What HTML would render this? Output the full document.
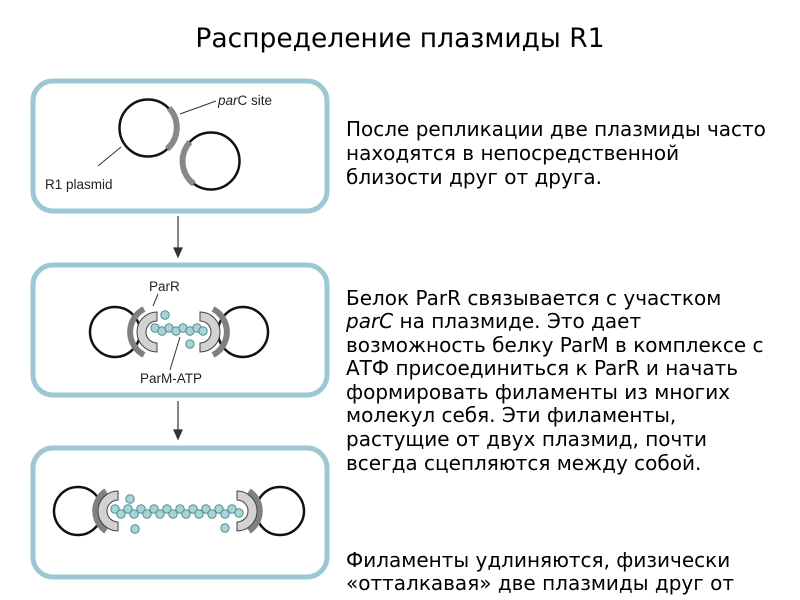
<!DOCTYPE html>
<html><head><meta charset="utf-8"><style>
html,body{margin:0;padding:0;background:#fff;width:800px;height:600px;overflow:hidden}
svg{display:block}
.t{font-family:"DejaVu Sans","Liberation Sans",sans-serif;font-size:20px;fill:#000}
.s{font-family:"Liberation Sans",sans-serif;font-size:13.5px;fill:#222}
</style></head><body>
<svg width="800" height="600" viewBox="0 0 800 600" xmlns="http://www.w3.org/2000/svg">
<text x="400" y="47" text-anchor="middle" font-family="DejaVu Sans, sans-serif" font-size="26.5">Распределение плазмиды R1</text>

<g fill="none" stroke="#9cc7d3" stroke-width="5">
<rect x="33" y="81" width="294" height="130" rx="20"/>
<rect x="33" y="265" width="294" height="130" rx="20"/>
<rect x="33" y="448" width="294" height="129" rx="20"/>
</g>

<g stroke="#333" stroke-width="1.2" fill="#333">
<line x1="178" y1="216" x2="178" y2="250"/><path d="M174,248 L178,257 L182,248Z"/>
<line x1="178" y1="401" x2="178" y2="432"/><path d="M174,430 L178,439 L182,430Z"/>
</g>

<circle cx="148" cy="128" r="28.5" fill="none" stroke="#111" stroke-width="2.5"/>
<path d="M169,108 A28.5,28.5 0 0 1 167,149" fill="none" stroke="#888" stroke-width="6"/>
<circle cx="211" cy="161" r="28.5" fill="none" stroke="#111" stroke-width="2.5"/>
<path d="M190,142 A28.5,28.5 0 0 0 194,184" fill="none" stroke="#888" stroke-width="6"/>
<line x1="180" y1="114" x2="216" y2="101" stroke="#333" stroke-width="1"/>
<text x="218" y="105" class="s"><tspan font-style="italic">par</tspan>C site</text>
<line x1="98" y1="166" x2="121" y2="147" stroke="#333" stroke-width="1"/>
<text x="45" y="189" class="s">R1 plasmid</text>

<circle cx="115" cy="332" r="25" fill="none" stroke="#111" stroke-width="2.5"/>
<path d="M144,309 A26,26 0 0 0 144,355" fill="none" stroke="#808080" stroke-width="6"/>
<path d="M157,312 A20,20 0 0 0 157,352 L157,343 A11,11 0 0 1 157,321Z" fill="#d2d2d2" stroke="#444" stroke-width="1"/>
<circle cx="243" cy="332" r="25" fill="none" stroke="#111" stroke-width="2.5"/>
<path d="M213,309 A26,26 0 0 1 213,355" fill="none" stroke="#808080" stroke-width="6"/>
<path d="M200,312 A20,20 0 0 1 200,352 L200,343 A11,11 0 0 0 200,321Z" fill="#d2d2d2" stroke="#444" stroke-width="1"/>
<g fill="#a9d3d6" stroke="#4f8e94" stroke-width="1">
<circle cx="155" cy="328" r="4.2"/><circle cx="162" cy="331" r="4.2"/><circle cx="169" cy="328" r="4.2"/><circle cx="176" cy="331" r="4.2"/><circle cx="183" cy="328" r="4.2"/><circle cx="190" cy="331" r="4.2"/><circle cx="197" cy="328" r="4.2"/><circle cx="203" cy="331" r="4.2"/>
<circle cx="165" cy="315" r="4.2"/><circle cx="190" cy="344" r="4.2"/>
</g>
<line x1="158" y1="294" x2="153" y2="306" stroke="#333" stroke-width="1"/>
<text x="149" y="291" class="s">ParR</text>
<line x1="180" y1="337" x2="170" y2="370" stroke="#333" stroke-width="1"/>
<text x="140" y="383" class="s">ParM-ATP</text>

<circle cx="78" cy="511" r="24" fill="none" stroke="#111" stroke-width="2.5"/>
<path d="M106,491 A24,24 0 0 0 106,531" fill="none" stroke="#808080" stroke-width="6"/>
<path d="M118,491 A20,20 0 0 0 118,531 L118,522 A11,11 0 0 1 118,500Z" fill="#d2d2d2" stroke="#444" stroke-width="1"/>
<circle cx="280" cy="511" r="24" fill="none" stroke="#111" stroke-width="2.5"/>
<path d="M249,491 A24,24 0 0 1 249,531" fill="none" stroke="#808080" stroke-width="6"/>
<path d="M237,491 A20,20 0 0 1 237,531 L237,522 A11,11 0 0 0 237,500Z" fill="#d2d2d2" stroke="#444" stroke-width="1"/>
<g fill="#a9d3d6" stroke="#4f8e94" stroke-width="1">
<circle cx="115" cy="509" r="4.2"/><circle cx="121" cy="514" r="4.2"/><circle cx="128" cy="509" r="4.2"/><circle cx="134" cy="514" r="4.2"/><circle cx="141" cy="509" r="4.2"/><circle cx="147" cy="514" r="4.2"/><circle cx="154" cy="509" r="4.2"/><circle cx="160" cy="514" r="4.2"/><circle cx="167" cy="509" r="4.2"/><circle cx="173" cy="514" r="4.2"/><circle cx="180" cy="509" r="4.2"/><circle cx="186" cy="514" r="4.2"/><circle cx="193" cy="509" r="4.2"/><circle cx="199" cy="514" r="4.2"/><circle cx="206" cy="509" r="4.2"/><circle cx="212" cy="514" r="4.2"/><circle cx="219" cy="509" r="4.2"/><circle cx="225" cy="514" r="4.2"/><circle cx="232" cy="509" r="4.2"/><circle cx="239" cy="513" r="4.2"/>
<circle cx="130" cy="499" r="4.2"/><circle cx="135" cy="529" r="4.2"/><circle cx="225" cy="528" r="4.2"/>
</g>

<g class="t">
<text x="346" y="136">После репликации две плазмиды часто</text>
<text x="346" y="160">находятся в непосредственной</text>
<text x="346" y="184">близости друг от друга.</text>
<text x="346" y="305">Белок ParR связывается с участком</text>
<text x="346" y="328"><tspan font-style="italic">parC</tspan> на плазмиде. Это дает</text>
<text x="346" y="352">возможность белку ParM в комплексе с</text>
<text x="346" y="375">АТФ присоединиться к ParR и начать</text>
<text x="346" y="399">формировать филаменты из многих</text>
<text x="346" y="422">молекул себя. Эти филаменты,</text>
<text x="346" y="446">растущие от двух плазмид, почти</text>
<text x="346" y="470">всегда сцепляются между собой.</text>
<text x="346" y="567">Филаменты  удлиняются, физически</text>
<text x="346" y="590">«отталкавая» две плазмиды друг от</text>
</g>
</svg>
</body></html>
